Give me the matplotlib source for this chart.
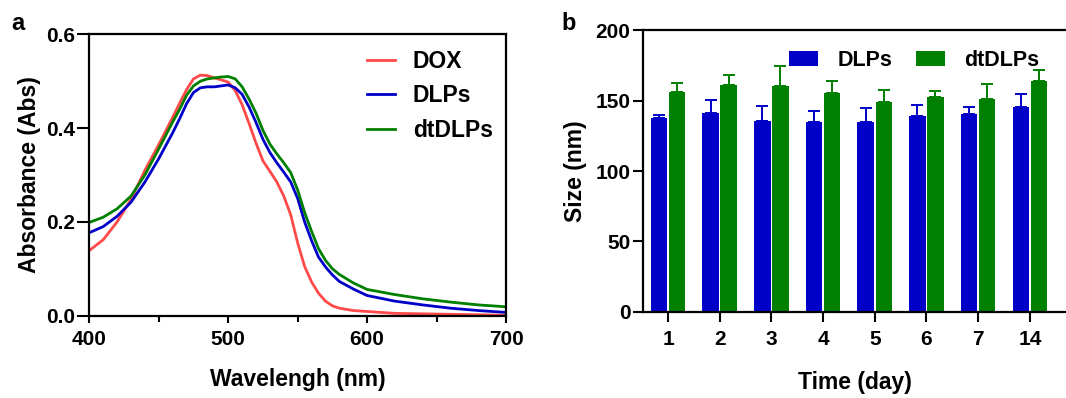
import matplotlib
matplotlib.use('Agg')
import matplotlib.pyplot as plt
import numpy as np

plt.rcParams['font.family'] = ['Liberation Sans', 'DejaVu Sans']
plt.rcParams['font.weight'] = 'bold'

# panel a: absorbance spectra
wavelength = [400, 410, 420, 430, 440, 450, 460, 465, 470, 475, 480, 485, 490, 495,
              500, 505, 510, 515, 520, 525, 530, 535, 540, 545, 550, 555, 560, 565,
              570, 575, 580, 590, 600, 620, 640, 660, 680, 700]
dox = [0.139, 0.162, 0.200, 0.248, 0.310, 0.365, 0.423, 0.453, 0.482, 0.505, 0.513, 0.512,
       0.507, 0.503, 0.498, 0.480, 0.450, 0.410, 0.368, 0.330, 0.308, 0.285, 0.255, 0.215,
       0.155, 0.105, 0.072, 0.048, 0.031, 0.021, 0.016, 0.011, 0.009, 0.005, 0.004,
       0.003, 0.002, 0.001]
dlps = [0.177, 0.190, 0.212, 0.242, 0.285, 0.335, 0.390, 0.420, 0.452, 0.476, 0.486, 0.488,
        0.488, 0.490, 0.492, 0.486, 0.472, 0.445, 0.412, 0.376, 0.348, 0.326, 0.306, 0.285,
        0.250, 0.200, 0.160, 0.125, 0.104, 0.087, 0.073, 0.057, 0.043, 0.031, 0.023,
        0.016, 0.011, 0.007]
dtdlps = [0.199, 0.210, 0.228, 0.255, 0.300, 0.356, 0.413, 0.440, 0.470, 0.490, 0.500, 0.505,
          0.507, 0.509, 0.510, 0.505, 0.488, 0.462, 0.432, 0.395, 0.366, 0.345, 0.326, 0.305,
          0.268, 0.220, 0.180, 0.143, 0.118, 0.100, 0.088, 0.070, 0.056, 0.045, 0.036,
          0.029, 0.023, 0.019]

# panel b: particle size over time
days = ['1', '2', '3', '4', '5', '6', '7', '14']
dlps_size = [137.8, 140.9, 135.4, 134.9, 134.9, 139.2, 140.4, 145.1]
dlps_err = [2.1, 9.4, 10.9, 7.8, 9.5, 7.6, 5.2, 9.5]
dtdlps_size = [156.0, 161.0, 160.3, 155.3, 148.7, 152.2, 150.8, 164.0]
dtdlps_err = [6.6, 7.1, 14.4, 8.5, 8.7, 4.5, 10.7, 7.6]

red = '#ff4a4a'
blue = '#0000c8'
green = '#008000'

fig = plt.figure(figsize=(10.66, 3.98), dpi=100)

# ---- a ----
ax1 = fig.add_axes([0.0838, 0.2068, 0.3909, 0.707])
ax1.plot(wavelength, dox, color=red, lw=2, label='DOX')
ax1.plot(wavelength, dlps, color=blue, lw=2, label='DLPs')
ax1.plot(wavelength, dtdlps, color=green, lw=2, label='dtDLPs')
ax1.set_xlim(400, 700)
ax1.set_ylim(0, 0.6)
ax1.set_xticks([400, 500, 600, 700])
ax1.set_xticks([450, 550, 650], minor=True)
ax1.set_yticks([0, 0.2, 0.4, 0.6])
ax1.set_yticklabels(['0.0', '0.2', '0.4', '0.6'])
ax1.tick_params(axis='x', which='major', length=5, width=1.5, labelsize=15, pad=5)
ax1.tick_params(axis='x', which='minor', length=4, width=1.5)
ax1.tick_params(axis='y', length=8.5, width=1.5, labelsize=15, pad=1.5)
for s in ax1.spines.values():
    s.set_linewidth(1.6)
ax1.set_xlabel('Wavelengh (nm)', fontsize=16.5, fontweight='bold', labelpad=14)
ax1.set_ylabel('Absorbance (Abs)', fontsize=16.5, fontweight='bold', labelpad=4)
ax1.legend(loc='upper left', bbox_to_anchor=(0.666, 0.945), frameon=False, fontsize=16.5,
           borderpad=0, borderaxespad=0, handlelength=1.25, handletextpad=0.75,
           labelspacing=0.5)
fig.text(0.011, 0.925, 'a', fontsize=17, fontweight='bold')

# ---- b ----
ax2 = fig.add_axes([0.6032, 0.2161, 0.3968, 0.7085])
x = np.arange(len(days))
w = 0.32
ax2.bar(x - 0.175, dlps_size, w, color=blue, label='DLPs',
        yerr=[np.zeros(len(days)), dlps_err], ecolor=blue,
        error_kw=dict(capsize=4, elinewidth=1.4, capthick=1.4))
ax2.bar(x + 0.175, dtdlps_size, w, color=green, label='dtDLPs',
        yerr=[np.zeros(len(days)), dtdlps_err], ecolor=green,
        error_kw=dict(capsize=4, elinewidth=1.4, capthick=1.4))
ax2.set_xlim(-0.484, 7.70)
ax2.set_ylim(0, 200)
ax2.set_xticks(x)
ax2.set_xticklabels(days)
ax2.set_yticks([0, 50, 100, 150, 200])
ax2.tick_params(axis='x', length=7, width=1.5, labelsize=15, pad=6)
ax2.tick_params(axis='y', length=7, width=1.5, labelsize=15, pad=2)
for s in ax2.spines.values():
    s.set_linewidth(1.6)
ax2.spines['right'].set_visible(False)
ax2.set_xlabel('Time (day)', fontsize=16.5, fontweight='bold', labelpad=16)
ax2.set_ylabel('Size (nm)', fontsize=16.5, fontweight='bold', labelpad=6)
ax2.legend(loc='upper left', bbox_to_anchor=(0.345, 0.93), ncol=2, frameon=False,
           fontsize=15.5, borderpad=0, borderaxespad=0, handlelength=1.35,
           handleheight=0.7, handletextpad=0.9, columnspacing=1.1)
fig.text(0.527, 0.925, 'b', fontsize=17, fontweight='bold')

fig.savefig('out.png', dpi=100)
